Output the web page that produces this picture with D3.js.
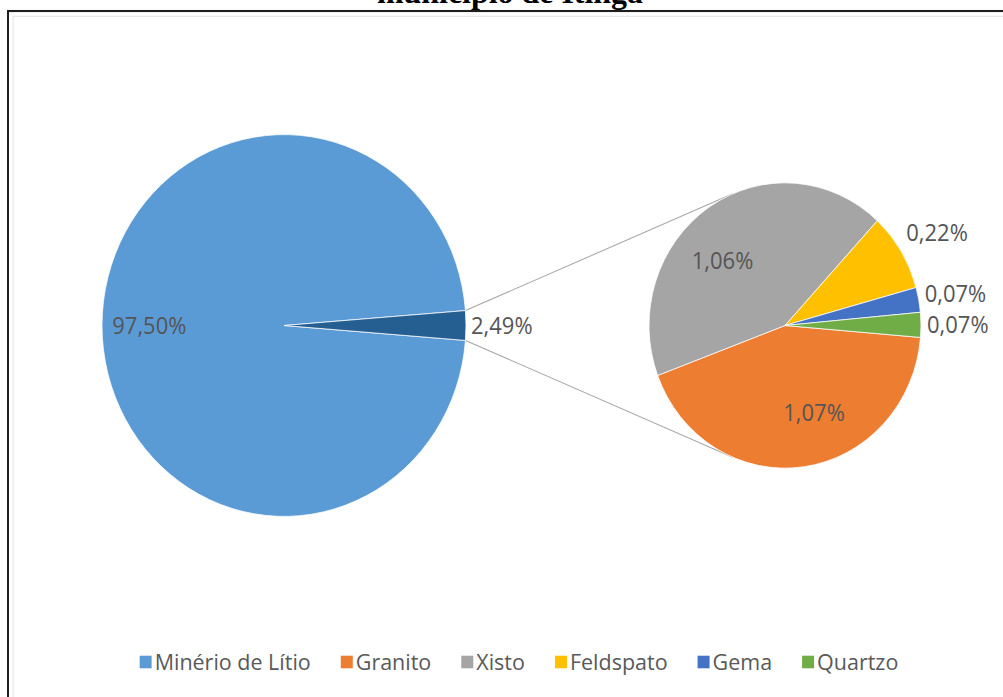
<!doctype html>
<html lang="pt">
<head>
<meta charset="utf-8">
<title>Pie of pie - Itinga</title>
<script src="https://cdn.jsdelivr.net/npm/d3@7"></script>
<style>
  html, body { margin: 0; background: #fff; }
  svg { display: block; }
  .lbl { font-family: "Open Sans", sans-serif; font-size: 22px; fill: #555; }
  .leg { font-family: "Open Sans", sans-serif; font-size: 21.5px; fill: #595959; }
  .title { font-family: "Liberation Serif", "Times New Roman", serif; font-weight: bold; font-size: 30px; fill: #000; }
</style>
</head>
<body>
<svg id="chart"></svg>
<script>
// data
const titleText = "município de Itinga";
const categories = ["Minério de Lítio", "Granito", "Xisto", "Feldspato", "Gema", "Quartzo"];
const colors = ["#5B9BD5", "#ED7D31", "#A5A5A5", "#FFC000", "#4472C4", "#70AD47"];
const otherColor = "#255E91";
const mainValues = [97.50, 2.49];          // Minério de Lítio, outros (split below)
const mainLabels = ["97,50%", "2,49%"];
const subValues = [1.07, 1.06, 0.22, 0.07, 0.07];   // Granito .. Quartzo
const subLabels = ["1,07%", "1,06%", "0,22%", "0,07%", "0,07%"];

const W = 1003, H = 697;
const stretch = 1.049;            // the original picture is a bit taller than wide
const VH = H / stretch;

const svg = d3.select("#chart")
    .attr("width", W)
    .attr("height", H)
    .attr("viewBox", [0, 0, W, VH])
    .attr("preserveAspectRatio", "none");

// frame
svg.append("rect")
    .attr("x", 13).attr("y", 15.5).attr("width", 1100).attr("height", 800)
    .attr("fill", "none").attr("stroke", "#e3e3e3").attr("stroke-width", 1);
svg.append("rect")
    .attr("x", 8).attr("y", 10.5).attr("width", 1100).attr("height", 800)
    .attr("fill", "none").attr("stroke", "#1e1e1e").attr("stroke-width", 2);

// title (mostly cut off at the top)
svg.append("text")
    .attr("class", "title")
    .attr("x", 510).attr("y", 3.3)
    .attr("text-anchor", "middle")
    .attr("textLength", 266)
    .attr("lengthAdjust", "spacingAndGlyphs")
    .text(titleText);

const deg = Math.PI / 180;
const c1 = {x: 284, y: 310.3, r: 182};
const c2 = {x: 785, y: 310.3, r: 136};

// primary pie: the "other" slice is centred on 3 o'clock
const mainTotal = d3.sum(mainValues);
const otherSpan = 2 * Math.PI * mainValues[1] / mainTotal;
const mainStart = Math.PI / 2 + otherSpan / 2;
const mainArcs = d3.pie().sort(null).value(d => d)
    .startAngle(mainStart).endAngle(mainStart + 2 * Math.PI)(mainValues);

// secondary pie
const subStart = 94.8 * deg;
const subArcs = d3.pie().sort(null).value(d => d)
    .startAngle(subStart).endAngle(subStart + 2 * Math.PI)(subValues);

const pt = (c, a, r) => [c.x + r * Math.sin(a), c.y - r * Math.cos(a)];

// connector lines: from the edges of the "other" slice, tangent to the secondary pie
const oth = mainArcs[1];
[[oth.endAngle, -1], [oth.startAngle + 2 * Math.PI, 1]].forEach(([a, side]) => {
  const p = pt(c1, a, c1.r);
  const dx = p[0] - c2.x, dy = p[1] - c2.y;
  const d = Math.hypot(dx, dy);
  const base = Math.atan2(dy, dx);
  const t = base + side * Math.acos(c2.r / d);
  svg.append("line")
      .attr("x1", p[0]).attr("y1", p[1])
      .attr("x2", c2.x + c2.r * Math.cos(t)).attr("y2", c2.y + c2.r * Math.sin(t))
      .attr("stroke", "#a6a6a6").attr("stroke-width", 1);
});

const arc1 = d3.arc().innerRadius(0).outerRadius(c1.r);
const arc2 = d3.arc().innerRadius(0).outerRadius(c2.r);

svg.append("g")
    .attr("transform", `translate(${c1.x},${c1.y})`)
  .selectAll("path")
  .data(mainArcs)
  .join("path")
    .attr("d", arc1)
    .attr("fill", (d, i) => i === 0 ? colors[0] : otherColor)
    .attr("stroke", "#fff").attr("stroke-width", 0.75);

svg.append("g")
    .attr("transform", `translate(${c2.x},${c2.y})`)
  .selectAll("path")
  .data(subArcs)
  .join("path")
    .attr("d", arc2)
    .attr("fill", (d, i) => colors[i + 1])
    .attr("stroke", "#fff").attr("stroke-width", 0.75);

// labels, primary
mainArcs.forEach((d, i) => {
  const mid = (d.startAngle + d.endAngle) / 2;
  const inside = d.endAngle - d.startAngle > 0.6;
  const p = inside ? pt(c1, mid, c1.r * 0.74) : pt(c1, mid, c1.r + 5);
  svg.append("text")
      .attr("class", "lbl")
      .attr("x", p[0]).attr("y", p[1]).attr("dy", "0.36em")
      .attr("text-anchor", inside ? "middle" : "start")
      .text(mainLabels[i]);
});

// labels, secondary
subArcs.forEach((d, i) => {
  const mid = (d.startAngle + d.endAngle) / 2;
  const inside = d.endAngle - d.startAngle > 0.6;
  let p;
  if (inside) {
    p = pt(c2, mid - 11.5 * deg, c2.r * 0.645);
  } else {
    p = pt(c2, mid, c2.r + 6);
    p[1] -= 28 * Math.cos(mid);
  }
  svg.append("text")
      .attr("class", "lbl")
      .attr("x", p[0]).attr("y", p[1]).attr("dy", "0.36em")
      .attr("text-anchor", inside ? "middle" : "start")
      .text(subLabels[i]);
});

// legend
const gap = 30;
const legend = svg.append("g");
let lx = 0;
categories.forEach((name, i) => {
  const g = legend.append("g").attr("transform", `translate(${lx},0)`);
  g.append("rect")
      .attr("x", 0).attr("y", -6).attr("width", 12).attr("height", 12)
      .attr("fill", colors[i]);
  const t = g.append("text")
      .attr("class", "leg")
      .attr("x", 15).attr("dy", "0.36em")
      .text(name);
  lx += 15 + t.node().getComputedTextLength() + gap;
});
lx -= gap;
legend.attr("transform", `translate(${519 - lx / 2},${662 / stretch})`);
</script>
</body>
</html>
